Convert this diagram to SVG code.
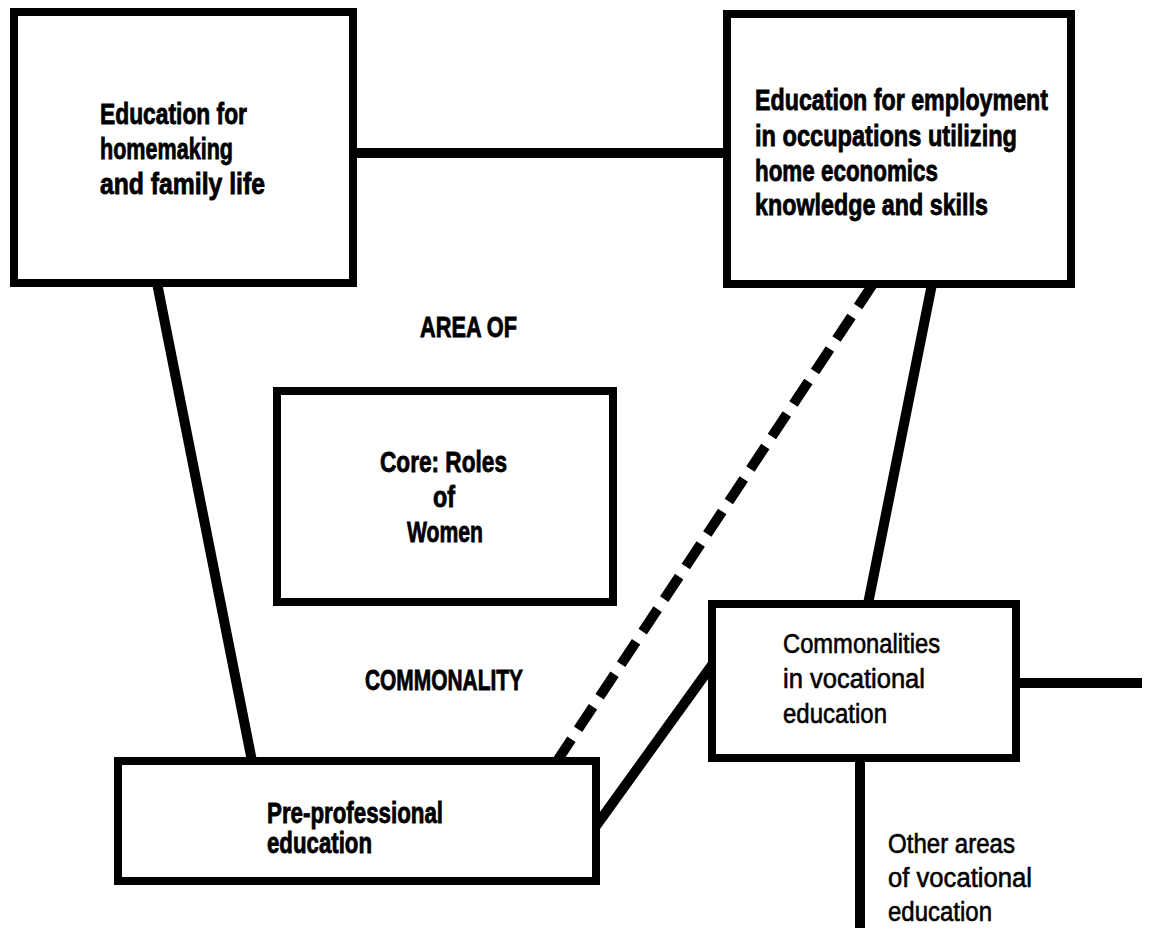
<svg xmlns="http://www.w3.org/2000/svg" width="1154" height="928" viewBox="0 0 1154 928">
<style>
.box{fill:#fff;stroke:#000;stroke-width:8}
.b{font-family:"Liberation Sans",Arial,sans-serif;font-weight:700;font-size:29px;fill:#000;stroke:#000;stroke-width:0.8}
.r{font-family:"Liberation Sans",Arial,sans-serif;font-weight:400;font-size:27px;fill:#000;stroke:#000;stroke-width:0.6}
.ln{stroke:#000;fill:none;stroke-width:10}
</style>
<rect width="1154" height="928" fill="#fff"/>
<g id="connectors">
<line class="ln" x1="353" y1="153" x2="727" y2="153" stroke-width="12"/>
<line class="ln" x1="157" y1="283" x2="252" y2="761"/>
<line class="ln" x1="873" y1="284" x2="557" y2="761" stroke-width="12" stroke-dasharray="27 12"/>
<line class="ln" x1="932" y1="284" x2="868" y2="604"/>
<line class="ln" x1="596" y1="826" x2="712" y2="665"/>
<line class="ln" x1="1016" y1="683" x2="1142" y2="683" stroke-width="11"/>
<line class="ln" x1="860" y1="758" x2="860" y2="928"/>
</g>
<g id="node-homemaking">
<rect class="box" x="14" y="12" width="339" height="271"/>
<text class="b" x="100" y="124" textLength="147" lengthAdjust="spacingAndGlyphs">Education for</text>
<text class="b" x="100" y="159" textLength="133" lengthAdjust="spacingAndGlyphs">homemaking</text>
<text class="b" x="100" y="194" textLength="165" lengthAdjust="spacingAndGlyphs">and family life</text>
</g>
<g id="node-employment">
<rect class="box" x="727" y="14" width="344" height="270"/>
<text class="b" x="755" y="110" textLength="293" lengthAdjust="spacingAndGlyphs">Education for employment</text>
<text class="b" x="755" y="146" textLength="262" lengthAdjust="spacingAndGlyphs">in occupations utilizing</text>
<text class="b" x="755" y="181" textLength="183" lengthAdjust="spacingAndGlyphs">home economics</text>
<text class="b" x="755" y="215" textLength="233" lengthAdjust="spacingAndGlyphs">knowledge and skills</text>
</g>
<g id="label-area">
<text class="b" x="420" y="337" textLength="97" lengthAdjust="spacingAndGlyphs">AREA OF</text>
<text class="b" x="365" y="690" textLength="158" lengthAdjust="spacingAndGlyphs">COMMONALITY</text>
</g>
<g id="node-core">
<rect class="box" x="277" y="391" width="336" height="211" stroke-width="7"/>
<text class="b" x="380" y="472" textLength="127" lengthAdjust="spacingAndGlyphs">Core: Roles</text>
<text class="b" x="433" y="507" textLength="22" lengthAdjust="spacingAndGlyphs">of</text>
<text class="b" x="407" y="542" textLength="76" lengthAdjust="spacingAndGlyphs">Women</text>
</g>
<g id="node-preprofessional">
<rect class="box" x="118" y="761" width="478" height="120" stroke-width="7"/>
<text class="b" x="267" y="823" textLength="176" lengthAdjust="spacingAndGlyphs">Pre-professional</text>
<text class="b" x="267" y="853" textLength="105" lengthAdjust="spacingAndGlyphs">education</text>
</g>
<g id="node-commonalities">
<rect class="box" x="712" y="604" width="304" height="154" stroke-width="7"/>
<text class="r" x="783" y="653" textLength="157" lengthAdjust="spacingAndGlyphs">Commonalities</text>
<text class="r" x="783" y="688" textLength="142" lengthAdjust="spacingAndGlyphs">in vocational</text>
<text class="r" x="783" y="723" textLength="104" lengthAdjust="spacingAndGlyphs">education</text>
</g>
<g id="label-other">
<text class="r" x="888" y="853" textLength="127" lengthAdjust="spacingAndGlyphs">Other areas</text>
<text class="r" x="888" y="887" textLength="144" lengthAdjust="spacingAndGlyphs">of vocational</text>
<text class="r" x="888" y="921" textLength="104" lengthAdjust="spacingAndGlyphs">education</text>
</g>
</svg>
